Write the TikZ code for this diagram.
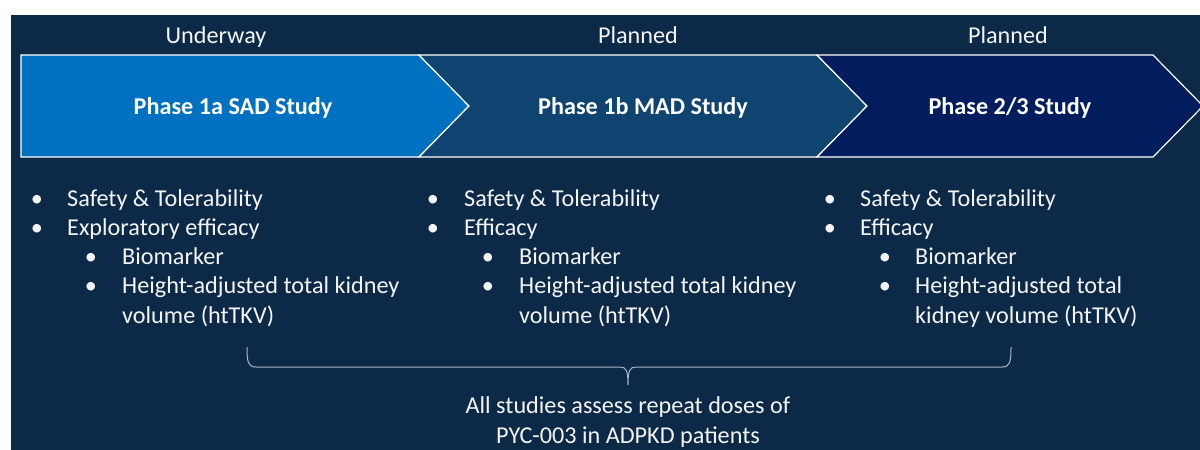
\documentclass[tikz,border=0pt]{standalone}
\usepackage{fontspec}
\setmainfont{Carlito}
\definecolor{bgnavy}{HTML}{0C2A47}
\definecolor{cA}{HTML}{0070C0}
\definecolor{cB}{HTML}{0F4370}
\definecolor{cC}{HTML}{021D5E}
\definecolor{txtc}{HTML}{F4F4F4}
\definecolor{bracec}{HTML}{A8B6C8}
\begin{document}
\begin{tikzpicture}[x=1pt,y=-1pt,
  chev/.style={draw=white,line width=1.2pt,line join=miter},
  head/.style={font=\fontsize{24.2}{29}\selectfont\bfseries,text=white,inner sep=0pt,anchor=base},
  status/.style={font=\fontsize{24.2}{29}\selectfont,text=txtc,inner sep=0pt,anchor=base},
  txt/.style={font=\fontsize{24.2}{29}\selectfont,text=txtc,inner sep=0pt,anchor=base west},
  bul/.style={font=\fontsize{24.2}{29}\selectfont,text=txtc,inner sep=0pt,anchor=base},
  bottom/.style={font=\fontsize{24.2}{29}\selectfont,text=txtc,inner sep=0pt,anchor=base}]
\useasboundingbox (0,0) rectangle (1200,450);
\fill[white] (0,0) rectangle (1200,450);
\fill[bgnavy] (11,15) rectangle (1200,450);
% chevrons
\filldraw[chev,fill=cA] (21,55) -- (419,55) -- (469,106) -- (419,157) -- (21,157) -- cycle;
\filldraw[chev,fill=cB] (419,55) -- (817,55) -- (867,106) -- (817,157) -- (419,157) -- (469,106) -- cycle;
\begin{scope}
\clip (0,0) rectangle (1200,450);
\filldraw[chev,fill=cC] (817,55) -- (1153,55) -- (1203,106) -- (1153,157) -- (817,157) -- (867,106) -- cycle;
\end{scope}
\node[head] (h1) at (233,114) {Phase 1a SAD Study};
\node[head] (h2) at (643,114) {Phase 1b MAD Study};
\node[head] (h3) at (1010,114) {Phase 2/3 Study};
\node[status] (s1) at (216,43) {Underway};
\node[status] (s2) at (638,43) {Planned};
\node[status] (s3) at (1008,43) {Planned};
% column 1
\node[bul] (a1b) at (37,206) {\textbullet};
\node[txt] (a1) at (67,206) {Safety \& Tolerability};
\node[bul] (a2b) at (37,235.3) {\textbullet};
\node[txt] (a2) at (67,235.3) {Exploratory efficacy};
\node[bul] (a3b) at (91,264.6) {\textbullet};
\node[txt] (a3) at (122,264.6) {Biomarker};
\node[bul] (a4b) at (91,293.9) {\textbullet};
\node[txt] (a4) at (122,293.9) {Height-adjusted total kidney};
\node[txt] (a5) at (122,323.2) {volume (htTKV)};
% column 2
\node[bul] (b1b) at (433,206) {\textbullet};
\node[txt] (b1) at (464,206) {Safety \& Tolerability};
\node[bul] (b2b) at (433,235.3) {\textbullet};
\node[txt] (b2) at (464,235.3) {Efficacy};
\node[bul] (b3b) at (488,264.6) {\textbullet};
\node[txt] (b3) at (519,264.6) {Biomarker};
\node[bul] (b4b) at (488,293.9) {\textbullet};
\node[txt] (b4) at (519,293.9) {Height-adjusted total kidney};
\node[txt] (b5) at (519,323.2) {volume (htTKV)};
% column 3
\node[bul] (c1b) at (830,206) {\textbullet};
\node[txt] (c1) at (860,206) {Safety \& Tolerability};
\node[bul] (c2b) at (830,235.3) {\textbullet};
\node[txt] (c2) at (860,235.3) {Efficacy};
\node[bul] (c3b) at (885,264.6) {\textbullet};
\node[txt] (c3) at (915,264.6) {Biomarker};
\node[bul] (c4b) at (885,293.9) {\textbullet};
\node[txt] (c4) at (915,293.9) {Height-adjusted total};
\node[txt] (c5) at (915,323.2) {kidney volume (htTKV)};
% brace
\coordinate (brL) at (247,347);
\coordinate (brM) at (628,385);
\coordinate (brR) at (1011,347);
\draw[bracec,line width=1pt] (brL) .. controls (247,362) and (248,367) .. (256,367) -- (620,367) .. controls (626,367) and (628,370) .. (brM)
  (brM) .. controls (628,370) and (630,367) .. (636,367) -- (1002,367) .. controls (1010,367) and (1011,362) .. (brR);
\node[bottom] (n1) at (628,413) {All studies assess repeat doses of};
\node[bottom] (n2) at (628,443) {PYC-003 in ADPKD patients};
\end{tikzpicture}
\end{document}
